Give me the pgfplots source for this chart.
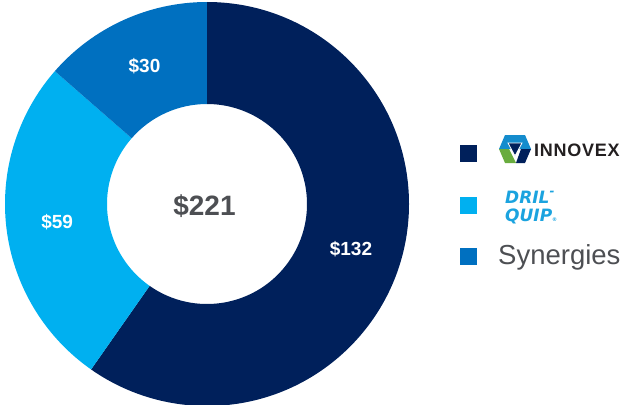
\documentclass[border=0pt]{standalone}
\usepackage{pgfplots}
\usepackage{pgfplotstable}
\usepackage{fontspec}
\setmainfont{Liberation Sans}
\newfontfamily\drilfont{DejaVu Sans}
\pgfplotsset{compat=1.18}

\definecolor{navy}{RGB}{0,32,91}
\definecolor{lightblue}{RGB}{0,176,240}
\definecolor{midblue}{RGB}{0,112,192}
\definecolor{textgray}{RGB}{77,79,83}
\definecolor{drilblue}{RGB}{27,163,223}
\definecolor{hexblue}{RGB}{20,140,205}
\definecolor{hexgreen}{RGB}{105,172,62}
\definecolor{logoblack}{RGB}{35,31,32}

\pgfplotstableread{
name value
Innovex 132
DrilQuip 59
Synergies 30
}\donutdata

\begin{document}
\begin{tikzpicture}
% centre and radii in axis units (1 unit = 1bp = 1px)
\def\cx{207}\def\cy{200}\def\ro{202}\def\ri{100}\def\rl{151}
\pgfplotstablegetelem{0}{value}\of\donutdata\let\va\pgfplotsretval
\pgfplotstablegetelem{1}{value}\of\donutdata\let\vb\pgfplotsretval
\pgfplotstablegetelem{2}{value}\of\donutdata\let\vc\pgfplotsretval
\pgfmathtruncatemacro{\tot}{\va+\vb+\vc}
\pgfmathsetmacro{\aA}{90}
\pgfmathsetmacro{\aB}{\aA-360*(\va/\tot)}
\pgfmathsetmacro{\aC}{\aB-360*(\vb/\tot)}
\pgfmathsetmacro{\aD}{\aC-360*(\vc/\tot)}
\pgfmathsetmacro{\mA}{(\aA+\aB)/2}
\pgfmathsetmacro{\mB}{(\aB+\aC)/2}
\pgfmathsetmacro{\mC}{(\aC+\aD)/2}

\begin{axis}[
    x=1bp, y=1bp,
    xmin=0, xmax=626,
    ymin=0, ymax=404,
    hide axis,
    clip=true
]
\addplot[draw=none] coordinates {(0,0)};

% donut slices
\fill[navy] ([shift={(\aA:\ro bp)}]axis cs:\cx,\cy) arc[start angle=\aA, end angle=\aB, radius=\ro bp]
  -- ([shift={(\aB:\ri bp)}]axis cs:\cx,\cy) arc[start angle=\aB, end angle=\aA, radius=\ri bp] -- cycle;
\fill[lightblue] ([shift={(\aB:\ro bp)}]axis cs:\cx,\cy) arc[start angle=\aB, end angle=\aC, radius=\ro bp]
  -- ([shift={(\aC:\ri bp)}]axis cs:\cx,\cy) arc[start angle=\aC, end angle=\aB, radius=\ri bp] -- cycle;
\fill[midblue] ([shift={(\aC:\ro bp)}]axis cs:\cx,\cy) arc[start angle=\aC, end angle=\aD, radius=\ro bp]
  -- ([shift={(\aD:\ri bp)}]axis cs:\cx,\cy) arc[start angle=\aD, end angle=\aC, radius=\ri bp] -- cycle;

% slice labels
\node[white, font=\fontsize{19bp}{19bp}\bfseries\selectfont] at ([shift={(\mA:\rl bp)}]axis cs:\cx,\cy) {\$\va};
\node[white, font=\fontsize{19bp}{19bp}\bfseries\selectfont] at ([shift={(\mB:\rl bp)}]axis cs:\cx,\cy) {\$\vb};
\node[white, font=\fontsize{19bp}{19bp}\bfseries\selectfont] at ([shift={(\mC:\rl bp)}]axis cs:\cx,\cy) {\$\vc};
\node[textgray, inner sep=0, anchor=base, font=\fontsize{28bp}{28bp}\bfseries\selectfont] at (axis cs:204.5,189) {\$\tot};

% legend
\fill[navy] (axis cs:460,242) rectangle (axis cs:477,259);
\fill[lightblue] (axis cs:460,190) rectangle (axis cs:477,207);
\fill[midblue] (axis cs:460,139) rectangle (axis cs:477,156);

% innovex mark
\fill[hexblue] (axis cs:499,255) -- (axis cs:505,269) -- (axis cs:525,269) -- (axis cs:531,255) -- cycle;
\fill[hexgreen] (axis cs:499,255) -- (axis cs:505,241) -- (axis cs:516,241) -- (axis cs:509,255) -- cycle;
\fill[navy] (axis cs:531,255) -- (axis cs:525,241) -- (axis cs:516,241) -- (axis cs:521,255) -- cycle;
\fill[navy, draw=white, line width=0.8pt] (axis cs:508,261) -- (axis cs:522,261) -- (axis cs:515,248) -- cycle;
\node[logoblack, inner sep=0, anchor=base west, font=\fontsize{18bp}{18bp}\bfseries\addfontfeatures{LetterSpace=4}\selectfont] at (axis cs:534,248) {INNOVEX};

% dril-quip mark
\node[drilblue, inner sep=0, anchor=base west, font=\fontsize{17bp}{17bp}\drilfont\bfseries\itshape\selectfont] at (axis cs:505,201) {DRIL\raisebox{0.45em}{\fontsize{12bp}{12bp}\selectfont-}};
\node[drilblue, inner sep=0, anchor=base west, font=\fontsize{17bp}{17bp}\drilfont\bfseries\itshape\selectfont] at (axis cs:505,183) {QUIP\fontsize{5bp}{5bp}\selectfont\textregistered};

\node[textgray, inner sep=0, anchor=base west, font=\fontsize{27.5bp}{27.5bp}\selectfont] at (axis cs:498,140) {Synergies};

\end{axis}
\pgfresetboundingbox
\path (current axis.south west) rectangle (current axis.north east);
\end{tikzpicture}
\end{document}
